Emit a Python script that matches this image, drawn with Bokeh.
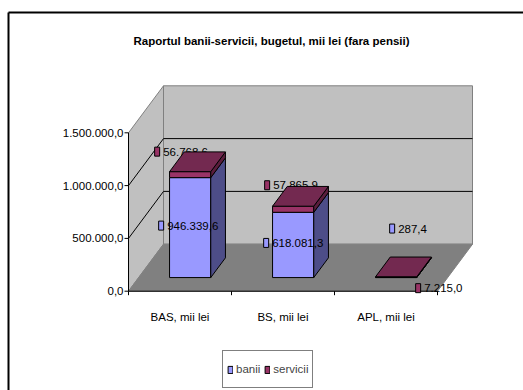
from bokeh.plotting import figure
from bokeh.models import Range1d, Legend, LegendItem, Label, ColumnDataSource
from bokeh.core.properties import value
from bokeh.embed import file_html
from bokeh.resources import INLINE

# ---------------- data ----------------
categories = ["BAS, mii lei", "BS, mii lei", "APL, mii lei"]
banii = [946339.6, 618081.3, 287.4]
servicii = [56768.6, 57865.9, 7215.0]
y_ticks = [0, 500000, 1000000, 1500000]
title_text = "Raportul banii-servicii, bugetul, mii lei (fara pensii)"
series_names = ["banii", "servicii"]


def fmt(v):
    s = f"{v:,.1f}"
    return s.replace(",", "X").replace(".", ",").replace("X", ".")


y_tick_labels = [fmt(t) for t in y_ticks]

# ---------------- layout / style constants (pixels) ----------------
W, H = 523, 390
X0 = 128.0          # front y-axis position
CAT_PX = 103.0      # width of one category on the front plane
Y0 = 290.7          # value 0 on the front plane
K = 158.4 / 1.5e6   # px per unit
DEPTH_DX, DEPTH_DY = 35.0, 47.0   # full-depth offset of the back wall
D0, D1 = 0.29, 0.71               # bar depth (front / back)
BAR_W = 0.40
FONT = "Liberation Sans"

DXU = DEPTH_DX / CAT_PX
DVU = DEPTH_DY / K
VMAX = y_ticks[-1]
NCAT = len(categories)


def px2x(px):
    return (px - X0) / CAT_PX


def px2y(py):
    return (Y0 - py) / K


def px_dx(d):
    return d / CAT_PX


def px_dy(d):
    return -d / K


def px_(x, d):
    return x + d * DXU


def pv(v, d):
    return v + d * DVU


p = figure(width=W, height=H, output_backend="svg", toolbar_location=None,
           x_range=Range1d(px2x(0), px2x(W)), y_range=Range1d(px2y(H), px2y(0)),
           x_axis_location=None, y_axis_location=None, min_border=0,
           outline_line_color=None, background_fill_color="white",
           border_fill_color="white")
p.xgrid.visible = False
p.ygrid.visible = False

# outer chart border (top and left visible)
p.line([px2x(8), px2x(W)], [px2y(12), px2y(12)], line_color="black", line_width=2)
p.line([px2x(8), px2x(8)], [px2y(12), px2y(H)], line_color="black", line_width=2)

# walls and floor
wall_gray = "#c0c0c0"
edge_gray = "#808080"
side_xs = [px_(0, 0), px_(0, 0), px_(0, 1), px_(0, 1)]
side_ys = [pv(0, 0), pv(VMAX, 0), pv(VMAX, 1), pv(0, 1)]
back_xs = [px_(0, 1), px_(NCAT, 1), px_(NCAT, 1), px_(0, 1)]
back_ys = [pv(0, 1), pv(0, 1), pv(VMAX, 1), pv(VMAX, 1)]
floor_xs = [px_(0, 0), px_(NCAT, 0), px_(NCAT, 1), px_(0, 1)]
floor_ys = [pv(0, 0), pv(0, 0), pv(0, 1), pv(0, 1)]
p.patches([side_xs, back_xs], [side_ys, back_ys], fill_color=wall_gray,
          line_color=edge_gray, line_width=1)
p.patch(floor_xs, floor_ys, fill_color=edge_gray, line_color=edge_gray, line_width=1)

# gridlines on back and side wall
grid_xs, grid_ys = [], []
for t in y_ticks[1:-1]:
    grid_xs.append([px_(0, 0), px_(0, 1), px_(NCAT, 1)])
    grid_ys.append([pv(t, 0), pv(t, 1), pv(t, 1)])
p.multi_line(grid_xs, grid_ys, line_color="black", line_width=1)

# axes lines and ticks
p.line([0, 0], [0, VMAX], line_color="black", line_width=1)
p.line([0, NCAT], [0, 0], line_color="black", line_width=1)
p.segment(x0=[0] * len(y_ticks), y0=y_ticks, x1=[px_dx(-4)] * len(y_ticks), y1=y_ticks,
          line_color="black", line_width=1)
p.segment(x0=list(range(NCAT + 1)), y0=[0] * (NCAT + 1), x1=list(range(NCAT + 1)),
          y1=[px_dy(4)] * (NCAT + 1), line_color="black", line_width=1)
p.text(x=[px_dx(-5)] * len(y_ticks), y=y_ticks, text=y_tick_labels,
       text_align="right", text_baseline="middle", text_font=value(FONT),
       text_font_size="11.5px", text_color="black")
p.text(x=[i + 0.5 for i in range(NCAT)], y=[px_dy(25.5)] * NCAT, text=categories,
       text_align="center", text_baseline="middle", text_font=value(FONT),
       text_font_size="11.5px", text_color="black")

# colours
banii_front, banii_side = "#9999ff", "#4d4d88"
serv_front, serv_side, serv_top = "#993366", "#5a1d3c", "#732950"

# label offsets (px, relative to bar front centre / segment middle)
banii_off = [(-29, -2), (-27, -2), (-4, -49)]
serv_off = [(-33, -23), (-26, -24), (22, 11)]

# servicii labels (drawn behind the bars)
sl_x, sl_y, sl_tx = [], [], []
for i in range(NCAT):
    cx = px_(i + 0.5, D0)
    mid = pv(banii[i] + servicii[i] / 2, D0)
    sl_x.append(cx + px_dx(serv_off[i][0]))
    sl_y.append(mid + px_dy(serv_off[i][1]))
    sl_tx.append(cx + px_dx(serv_off[i][0] + 6))
p.rect(x=sl_x, y=sl_y, width=5, height=9, width_units="screen", height_units="screen",
       fill_color=serv_front, line_color="black", line_width=1)
p.text(x=sl_tx, y=sl_y, text=[fmt(v) for v in servicii], text_align="left",
       text_baseline="middle", text_font=value(FONT), text_font_size="11.5px",
       text_color="black")

# bars
fb = dict(left=[], right=[], bottom=[], top=[])
fs = dict(left=[], right=[], bottom=[], top=[])
side_b_xs, side_b_ys, side_s_xs, side_s_ys, top_xs, top_ys = [], [], [], [], [], []
for i in range(NCAT):
    x0 = i + 0.5 - BAR_W / 2
    x1 = i + 0.5 + BAR_W / 2
    segs = [(0, banii[i]), (banii[i], banii[i] + servicii[i])]
    for j, (lo, hi) in enumerate(segs):
        dst = fb if j == 0 else fs
        dst["left"].append(px_(x0, D0))
        dst["right"].append(px_(x1, D0))
        dst["bottom"].append(pv(lo, D0))
        dst["top"].append(pv(hi, D0))
        sx = [px_(x1, D0), px_(x1, D0), px_(x1, D1), px_(x1, D1)]
        sy = [pv(lo, D0), pv(hi, D0), pv(hi, D1), pv(lo, D1)]
        if j == 0:
            side_b_xs.append(sx)
            side_b_ys.append(sy)
        else:
            side_s_xs.append(sx)
            side_s_ys.append(sy)
    top = banii[i] + servicii[i]
    top_xs.append([px_(x0, D0), px_(x1, D0), px_(x1, D1), px_(x0, D1)])
    top_ys.append([pv(top, D0), pv(top, D0), pv(top, D1), pv(top, D1)])

r_banii = p.quad(source=ColumnDataSource(fb), left="left", right="right", bottom="bottom",
                 top="top", fill_color=banii_front, line_color="black", line_width=1)
p.patches(side_b_xs, side_b_ys, fill_color=banii_side, line_color="black", line_width=1)
r_serv = p.quad(source=ColumnDataSource(fs), left="left", right="right", bottom="bottom",
                top="top", fill_color=serv_front, line_color="black", line_width=1)
p.patches(side_s_xs, side_s_ys, fill_color=serv_side, line_color="black", line_width=1)
p.patches(top_xs, top_ys, fill_color=serv_top, line_color="black", line_width=1)

# banii labels
bl_x, bl_y, bl_tx = [], [], []
for i in range(NCAT):
    cx = px_(i + 0.5, D0)
    mid = pv(banii[i] / 2, D0)
    bl_x.append(cx + px_dx(banii_off[i][0]))
    bl_y.append(mid + px_dy(banii_off[i][1]))
    bl_tx.append(cx + px_dx(banii_off[i][0] + 6))
p.rect(x=bl_x, y=bl_y, width=5, height=9, width_units="screen", height_units="screen",
       fill_color=banii_front, line_color="black", line_width=1)
p.text(x=bl_tx, y=bl_y, text=[fmt(v) for v in banii], text_align="left",
       text_baseline="middle", text_font=value(FONT), text_font_size="11.5px",
       text_color="black")

# title
p.add_layout(Label(x=271, y=H - 40, x_units="screen", y_units="screen", text=title_text,
                   text_align="center", text_baseline="middle", text_font=FONT,
                   text_font_size="11.5px", text_font_style="bold", text_color="black"))

# legend
legend = Legend(items=[LegendItem(label=series_names[0], renderers=[r_banii]),
                       LegendItem(label=series_names[1], renderers=[r_serv])],
                orientation="horizontal", location=(222, H - 388),
                border_line_color="black", border_line_width=1, padding=4, spacing=4,
                label_standoff=3, glyph_width=6, glyph_height=9, label_height=28,
                label_text_font=FONT, label_text_font_size="11.5px", margin=0,
                background_fill_color="white", background_fill_alpha=1)
p.add_layout(legend)

open("out.html", "w").write(file_html(p, INLINE))
